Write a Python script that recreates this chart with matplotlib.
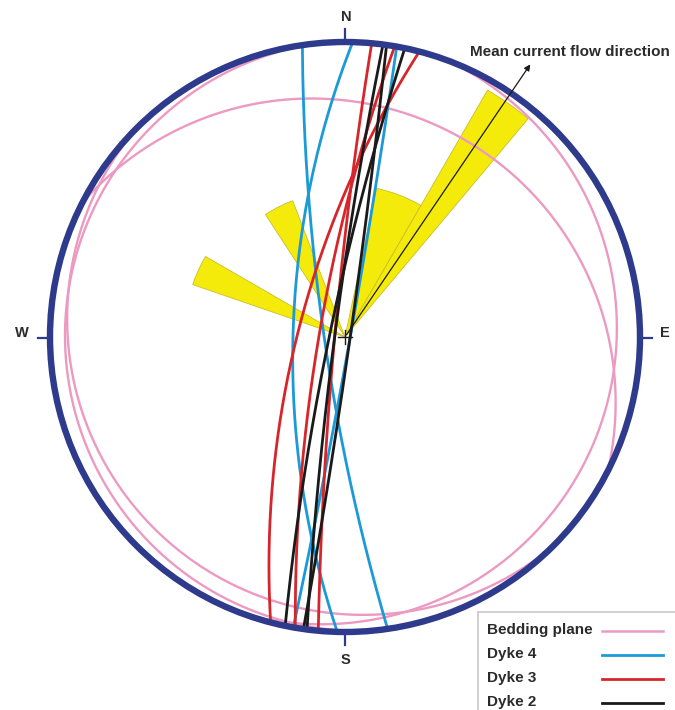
import numpy as np
import matplotlib.pyplot as plt
from matplotlib.patches import Circle, Wedge, Rectangle
from matplotlib.lines import Line2D

# planes given as dip direction / dip (degrees), lower hemisphere
bedding_dipdir = [27, 110, 265, 225]
bedding_dip = [14, 5, 3, 5]

dyke4_dipdir = [261.7, 271.5, 100.1]
dyke4_dip = [82, 70, 88]

dyke3_dipdir = [275.2, 279.7, 284.6]
dyke3_dip = [86, 80, 72]

dyke2_dipdir = [277.4, 98.1, 281.7]
dyke2_dip = [86, 88, 84]

# rose of palaeocurrents: petal azimuth range and length (fraction of net radius)
rose_az_from = [12, 30, 327, 289]
rose_az_to = [30, 40, 339, 300]
rose_length = [0.515, 0.966, 0.495, 0.546]

mean_flow_az = 34.2
mean_flow_len = 1.127

legend_labels = ['Bedding plane', 'Dyke 4', 'Dyke 3', 'Dyke 2']

PINK = '#EC9AC2'
BLUE = '#1B9AD7'
RED = '#D7262B'
BLACK = '#1A1A1A'
NAVY = '#2E3A8C'
YELLOW = '#F5EB0A'
TXT = '#2B2B2B'


def great_circle(dipdir, dip, n=500):
    dd = np.radians(dipdir)
    d = np.radians(dip)
    s = dd - np.pi / 2
    strike_vec = np.array([np.sin(s), np.cos(s), 0.0])
    dip_vec = np.array([np.sin(dd) * np.cos(d), np.cos(dd) * np.cos(d), -np.sin(d)])
    t = np.linspace(0, np.pi, n)
    v = np.outer(np.cos(t), strike_vec) + np.outer(np.sin(t), dip_vec)
    x, y, z = v.T
    # stereographic (Wulff) projection
    return x / (1 - z), y / (1 - z)


fig = plt.figure(figsize=(6.75, 7.1), dpi=100)
ax = fig.add_axes([0, 0, 1, 1])
ax.set_xlim(-345 / 295, 330 / 295)
ax.set_ylim(-373 / 295, 337 / 295)
ax.set_aspect('equal')
ax.axis('off')

# rose petals
for a0, a1, L in zip(rose_az_from, rose_az_to, rose_length):
    ax.add_patch(Wedge((0, 0), L, 90 - a1, 90 - a0, facecolor=YELLOW,
                       edgecolor='#C9BE2A', lw=0.6, zorder=1))

# great circles
for dd, dp in zip(bedding_dipdir, bedding_dip):
    x, y = great_circle(dd, dp)
    ax.plot(x, y, color=PINK, lw=1.7, zorder=2)
for dds, dps, c in [(dyke4_dipdir, dyke4_dip, BLUE),
                    (dyke3_dipdir, dyke3_dip, RED),
                    (dyke2_dipdir, dyke2_dip, BLACK)]:
    for dd, dp in zip(dds, dps):
        x, y = great_circle(dd, dp)
        ax.plot(x, y, color=c, lw=2.0, zorder=3)

# mean current direction
a = np.radians(mean_flow_az)
ax.annotate('', xy=(mean_flow_len * np.sin(a), mean_flow_len * np.cos(a)), xytext=(0, 0),
            arrowprops=dict(arrowstyle='-|>', color=BLACK, lw=0.9, mutation_scale=9),
            zorder=6)
ax.text(125 / 295, 0.966, 'Mean current flow direction', fontsize=11, fontweight='bold',
        family='Liberation Sans', color=TXT, ha='left', va='center', zorder=7)

# centre cross
ax.plot([-0.025, 0.025], [0, 0], color=BLACK, lw=1.0, zorder=6)
ax.plot([0, 0], [-0.025, 0.025], color=BLACK, lw=1.0, zorder=6)

# primitive and compass marks
ax.add_patch(Circle((0, 0), 1.0, fill=False, edgecolor=NAVY, lw=4.6, zorder=5))
ax.plot([0, 0], [1.0, 1.045], color=NAVY, lw=1.6, zorder=5)
ax.plot([0, 0], [-1.0, -1.045], color=NAVY, lw=1.6, zorder=5)
ax.plot([-1.0, -1.04], [-0.003, -0.003], color=NAVY, lw=1.6, zorder=5)
ax.plot([1.0, 1.04], [-0.003, -0.003], color=NAVY, lw=1.6, zorder=5)
for lab, px, py in [('N', 0.005, 1.085), ('S', 0.0, -1.095), ('W', -1.095, 0.012), ('E', 1.085, 0.012)]:
    ax.text(px, py, lab, fontsize=10.5, fontweight='bold', family='Liberation Sans',
            color=TXT, ha='center', va='center', zorder=7)

# legend box, partly cut by the lower edge like the original
lax = fig.add_axes([0, 0, 1, 1], zorder=10)
lax.set_xlim(0, 675)
lax.set_ylim(710, 0)
lax.axis('off')
lax.add_patch(Rectangle((478, 612), 220, 120, facecolor='white', edgecolor='#C8C8C8', lw=1.2))
for i, (lab, c) in enumerate(zip(legend_labels, [PINK, BLUE, RED, BLACK])):
    yy = 630 + i * 24
    lax.text(487, yy, lab, fontsize=11, fontweight='bold', family='Liberation Sans',
             color=TXT, ha='left', va='center')
    lax.add_line(Line2D([602, 663], [yy + 1, yy + 1], color=c, lw=1.8 if i == 0 else 2.0))

fig.savefig('out.png', dpi=100)
